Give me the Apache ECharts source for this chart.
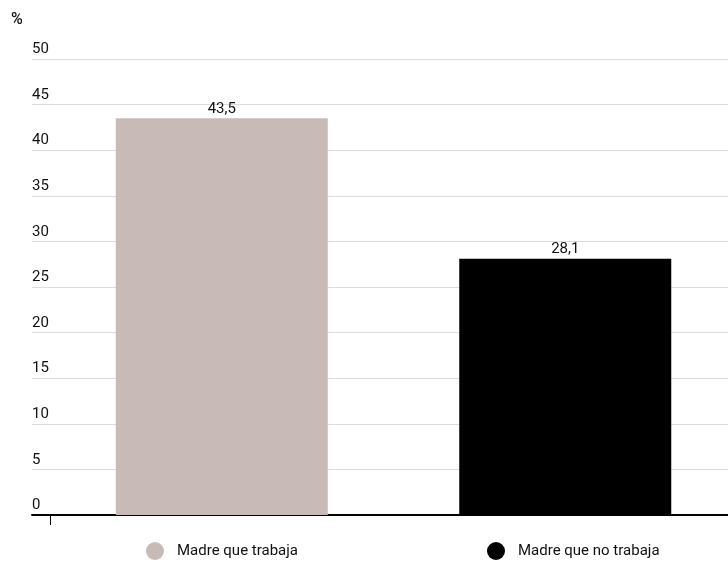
<!DOCTYPE html>
<html><head><meta charset="utf-8">
<script src="https://cdn.jsdelivr.net/npm/echarts@6/dist/echarts.min.js"></script>
<style>html,body{margin:0;padding:0;background:#fff}#c{width:728px;height:563px}</style>
</head><body><div id="c"></div>
<script>
const categories = ['Madre que trabaja', 'Madre que no trabaja'];
const values = [43.5, 28.1];
const colors = ['#c8bab6', '#000000'];
const yTicks = [0, 5, 10, 15, 20, 25, 30, 35, 40, 45, 50];
const unitLabel = '%';

const chart = echarts.init(document.getElementById('c'));
const font = 'Roboto, sans-serif';
const series = categories.map((name, i) => ({
  name: name,
  type: 'bar',
  xAxisIndex: 1, yAxisIndex: 1,
  stack: 'all',
  barWidth: 212,
  itemStyle: { color: colors[i] },
  label: {
    show: true, position: 'top', color: '#111', fontFamily: font, fontSize: 15, distance: 2,
    formatter: p => String(p.value).replace('.', ',')
  },
  data: categories.map((c, j) => j === i ? values[i] : '-')
}));

chart.setOption({
  animation: false,
  textStyle: { fontFamily: font },
  graphic: [{ type: 'text', left: 11, top: 12, style: { text: unitLabel, fontSize: 16, fontWeight: 500, fill: '#111', fontFamily: font } }],
  legend: {
    data: categories, left: 141, top: 537, itemGap: 189, icon: 'circle', itemWidth: 34, itemHeight: 18,
    textStyle: { fontSize: 15, color: '#111', fontFamily: font }
  },
  grid: [
    { left: 32, right: 0, top: 59, bottom: 48 },
    { left: 50, right: -9, top: 59, bottom: 48, outerBoundsMode: 'none' }
  ],
  xAxis: [
    { gridIndex: 0, type: 'value', min: 0, max: 1, axisLine: { show: true, lineStyle: { color: '#000', width: 2 } },
      axisTick: { show: false }, axisLabel: { show: false }, splitLine: { show: false } },
    { gridIndex: 1, type: 'category', data: categories, axisLine: { show: false },
      axisTick: { show: true, length: 10, interval: (idx) => idx === 0, lineStyle: { color: '#000', width: 1 } },
      axisLabel: { show: false } }
  ],
  yAxis: [
    { gridIndex: 0, type: 'value', min: yTicks[0], max: yTicks[yTicks.length - 1], interval: 5,
      axisLine: { show: false }, axisTick: { show: false },
      axisLabel: { align: 'left', margin: 0, verticalAlign: 'bottom', padding: [0, 0, 2, 0], color: '#111', fontSize: 15, fontFamily: font },
      splitLine: { lineStyle: { color: '#dcdcdc', width: 1 } } },
    { gridIndex: 1, type: 'value', min: yTicks[0], max: yTicks[yTicks.length - 1], show: false }
  ],
  series: series
});
</script></body></html>
